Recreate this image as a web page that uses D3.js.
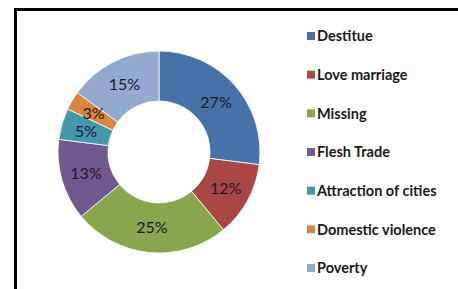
<!DOCTYPE html>
<html lang="en">
<head>
<meta charset="UTF-8">
<title>Donut</title>
<script src="https://d3js.org/d3.v7.min.js"></script>
<style>
  body { margin: 0; background: #fff; }
</style>
</head>
<body>
<div id="chart"></div>
<script>
// data
var categories = ["Destitue", "Love marriage", "Missing", "Flesh Trade", "Attraction of cities", "Domestic violence", "Poverty"];
var values = [27, 12, 25, 13, 5, 3, 15];
var colors = ["#4572A7", "#AA4643", "#89A54E", "#71588F", "#4198AF", "#DB843D", "#93A9CF"];

var width = 458, height = 289;
var svg = d3.select("#chart").append("svg")
    .attr("width", width)
    .attr("height", height);

// frame
svg.append("rect")
    .attr("x", 15.5).attr("y", 9.5)
    .attr("width", 500).attr("height", 400)
    .attr("fill", "#fff")
    .attr("stroke", "#000")
    .attr("stroke-width", 3);

var cx = 159, cy = 152, outerR = 101, innerR = 51;

var pie = d3.pie().sort(null).value(function(d) { return d; });
var arc = d3.arc().innerRadius(innerR).outerRadius(outerR);
var labelArc = d3.arc().innerRadius((innerR + outerR) / 2).outerRadius((innerR + outerR) / 2);

var g = svg.append("g").attr("transform", "translate(" + cx + "," + cy + ")");
var arcs = pie(values);

g.selectAll("path")
    .data(arcs)
    .enter()
    .append("path")
    .attr("d", arc)
    .attr("fill", function(d, i) { return colors[i]; })
    .attr("stroke", "#fff")
    .attr("stroke-width", 0.8);

g.selectAll("text")
    .data(arcs)
    .enter()
    .append("text")
    .attr("transform", function(d) { return "translate(" + labelArc.centroid(d) + ")"; })
    .attr("text-anchor", "middle")
    .attr("dy", "0.36em")
    .attr("font-family", "Lato, 'Open Sans', sans-serif")
    .attr("font-size", 16)
    .attr("fill", "#1a1a2e")
    .text(function(d) { return d.value + "%"; });

// legend
var legendY = d3.scalePoint().domain(categories).range([36, 268]);
var legend = svg.append("g");
var item = legend.selectAll("g")
    .data(categories)
    .enter()
    .append("g")
    .attr("transform", function(d) { return "translate(307," + legendY(d) + ")"; });

item.append("rect")
    .attr("x", 0).attr("y", -4)
    .attr("width", 8).attr("height", 8)
    .attr("fill", function(d, i) { return colors[i]; });

item.append("text")
    .attr("x", 10)
    .attr("dy", "0.36em")
    .attr("font-family", "Lato, 'Open Sans', sans-serif")
    .attr("font-weight", "bold")
    .attr("font-size", 14.5)
    .attr("fill", "#1a1a1a")
    .text(function(d) { return d; });
</script>
</body>
</html>
